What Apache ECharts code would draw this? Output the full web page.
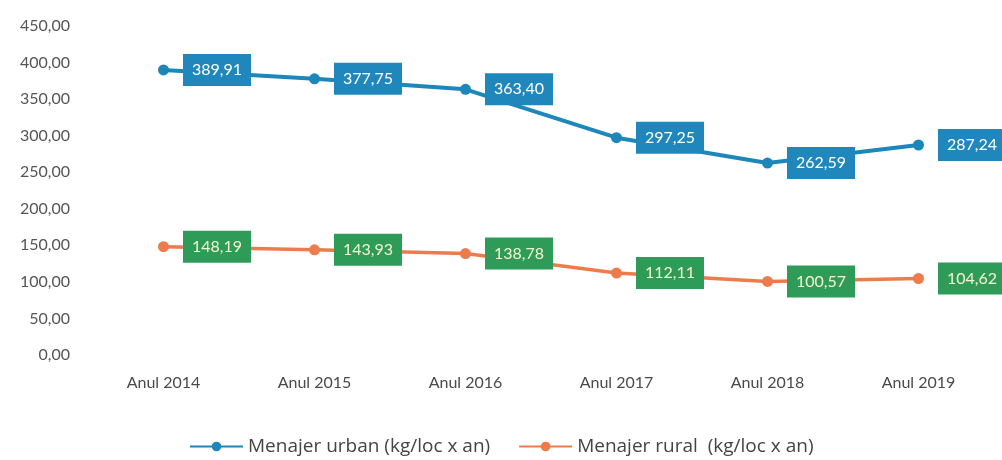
<!DOCTYPE html>
<html>
<head>
<meta charset="utf-8">
<script src="https://cdn.jsdelivr.net/npm/echarts@6/dist/echarts.min.js"></script>
<style>
html,body{margin:0;padding:0;background:#fff;}
#c{width:1002px;height:460px;}
</style>
</head>
<body>
<div id="c"></div>
<script>
var categories = ['Anul 2014','Anul 2015','Anul 2016','Anul 2017','Anul 2018','Anul 2019'];
var urbanName = 'Menajer urban (kg/loc x an)';
var ruralName = 'Menajer rural  (kg/loc x an)';
var urbanValues = [389.91, 377.75, 363.40, 297.25, 262.59, 287.24];
var ruralValues = [148.19, 143.93, 138.78, 112.11, 100.57, 104.62];
var yMin = 0, yMax = 450, yStep = 50;

function fmt(v){ return Number(v).toFixed(2).replace('.', ','); }

var font = 'Lato, "Open Sans", sans-serif';
var chart = echarts.init(document.getElementById('c'));
chart.setOption({
  animation: false,
  backgroundColor: '#ffffff',
  grid: {left: 88, right: 8, top: 26, bottom: 105},
  legend: {
    left: 184, top: 432,
    itemWidth: 53, itemHeight: 12, itemGap: 28,
    textStyle: {fontFamily: '"Open Sans", sans-serif', fontSize: 19, color: '#444'},
    data: [urbanName, ruralName]
  },
  xAxis: {
    type: 'category', data: categories, boundaryGap: true,
    axisLine: {show: false}, axisTick: {show: false},
    axisLabel: {fontFamily: font, fontSize: 16, color: '#4a4a4a', margin: 20}
  },
  yAxis: {
    type: 'value', min: yMin, max: yMax, interval: yStep,
    splitLine: {show: false}, axisLine: {show: false}, axisTick: {show: false},
    axisLabel: {fontFamily: font, fontSize: 16, color: '#555', margin: 18, formatter: fmt}
  },
  series: [
    {
      name: urbanName, type: 'line', data: urbanValues,
      symbol: 'circle', symbolSize: 11,
      lineStyle: {color: '#1d86bb', width: 4},
      itemStyle: {color: '#1d86bb'},
      label: {
        show: true, position: 'right', distance: 14,
        formatter: function(p){ return fmt(p.value); },
        backgroundColor: '#1f87bc', color: '#ffffff',
        fontFamily: font, fontSize: 16, padding: [8, 9]
      }
    },
    {
      name: ruralName, type: 'line', data: ruralValues,
      symbol: 'circle', symbolSize: 11,
      lineStyle: {color: '#ee7b4c', width: 3.5},
      itemStyle: {color: '#ee7b4c'},
      label: {
        show: true, position: 'right', distance: 14,
        formatter: function(p){ return fmt(p.value); },
        backgroundColor: '#2f9b59', color: '#f2f5cf',
        fontFamily: font, fontSize: 16, padding: [8, 9]
      }
    }
  ]
});
</script>
</body>
</html>
